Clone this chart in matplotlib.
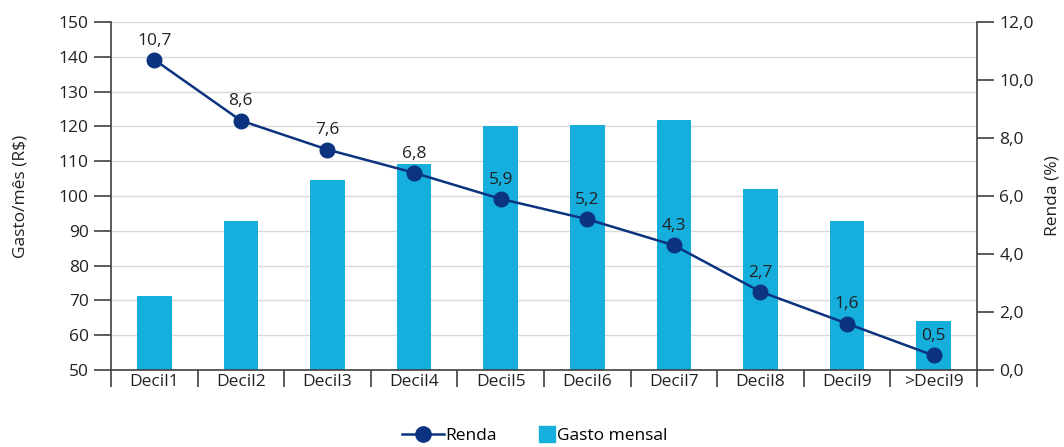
import numpy as np
import matplotlib.pyplot as plt
from matplotlib.lines import Line2D

plt.rcParams['font.family'] = ['Open Sans', 'DejaVu Sans']

# data
categorias = ['Decil1', 'Decil2', 'Decil3', 'Decil4', 'Decil5',
              'Decil6', 'Decil7', 'Decil8', 'Decil9', '>Decil9']
gasto_mensal = [71.3, 92.9, 104.6, 109.3, 120.1, 120.5, 121.9, 101.9, 92.8, 64.1]
renda = [10.7, 8.6, 7.6, 6.8, 5.9, 5.2, 4.3, 2.7, 1.6, 0.5]
renda_labels = ['10,7', '8,6', '7,6', '6,8', '5,9', '5,2', '4,3', '2,7', '1,6', '0,5']
left_ticks = [50, 60, 70, 80, 90, 100, 110, 120, 130, 140, 150]
right_ticks = [0, 2, 4, 6, 8, 10, 12]

bar_color = '#15aedd'
line_color = '#0b337f'
axis_color = '#404040'
text_color = '#222222'
fs = 12.5

fig = plt.figure(figsize=(10.64, 4.47), dpi=100)
ax = fig.add_axes([0.1043, 0.1723, 0.8139, 0.7785])
x = np.arange(len(categorias))

ax.bar(x, [g - 50 for g in gasto_mensal], bottom=50, width=0.4,
       color=bar_color, zorder=2)
ax.set_ylim(50, 150)
ax.set_xlim(-0.5, len(categorias) - 0.5)
ax.set_yticks(left_ticks)
ax.yaxis.grid(True, color='#d9d9d9', linewidth=1, zorder=0)
ax.set_axisbelow(True)

# category boundaries as major ticks, labels on minor ticks
ax.set_xticks(np.arange(-0.5, len(categorias), 1.0))
ax.set_xticklabels([])
ax.set_xticks(x, minor=True)
ax.set_xticklabels(categorias, minor=True)
ax.tick_params(axis='x', which='major', length=12, width=1.2, color=axis_color, direction='out')
ax.tick_params(axis='x', which='minor', length=0, labelsize=fs, labelcolor=text_color, pad=3)
ax.tick_params(axis='y', length=12, width=1.2, color=axis_color, labelsize=fs,
               labelcolor=text_color, pad=4)
for s in ['top', 'right']:
    ax.spines[s].set_visible(False)
for s in ['left', 'bottom']:
    ax.spines[s].set_color(axis_color)
    ax.spines[s].set_linewidth(1.2)
ax.set_ylabel('Gasto/mês (R$)', fontsize=fs, color=text_color, labelpad=22)

ax2 = ax.twinx()
ax2.plot(x, renda, color=line_color, linewidth=1.8, marker='o', markersize=10.5, zorder=3)
ax2.set_ylim(0, 12)
ax2.set_yticks(right_ticks)
ax2.set_yticklabels([f'{t:.1f}'.replace('.', ',') for t in right_ticks])
ax2.tick_params(axis='y', length=12, width=1.2, color=axis_color, labelsize=fs,
                labelcolor=text_color, pad=4)
for s in ['top', 'left', 'bottom']:
    ax2.spines[s].set_visible(False)
ax2.spines['right'].set_color(axis_color)
ax2.spines['right'].set_linewidth(1.2)
ax2.set_ylabel('Renda (%)', fontsize=fs, color=text_color, labelpad=8)

for xi, yi, lab in zip(x, renda, renda_labels):
    ax2.annotate(lab, (xi, yi), xytext=(0, 8), textcoords='offset points',
                 ha='center', va='bottom', fontsize=fs, color=text_color)

# legend: two pieces so the square sits right next to its text
h_renda = Line2D([], [], color=line_color, linewidth=1.8, marker='o', markersize=11)
h_gasto = Line2D([], [], color=bar_color, linestyle='none', marker='s', markersize=12)
leg1 = fig.legend([h_renda], ['Renda'], loc='center left', bbox_to_anchor=(0.378, 0.024),
                  frameon=False, fontsize=fs, handlelength=2.4, handletextpad=0.1,
                  borderpad=0, borderaxespad=0)
leg2 = fig.legend([h_gasto], ['Gasto mensal'], loc='center left', bbox_to_anchor=(0.506, 0.024),
                  frameon=False, fontsize=fs, handlelength=1.0, handletextpad=0.05,
                  borderpad=0, borderaxespad=0)

fig.savefig('out.png', dpi=100)
